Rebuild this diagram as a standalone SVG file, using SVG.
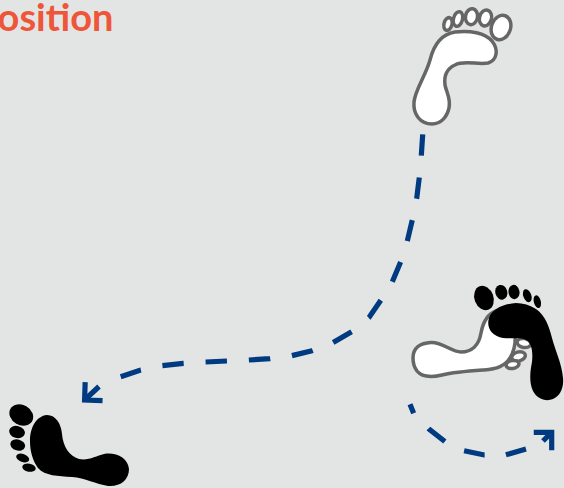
<svg xmlns="http://www.w3.org/2000/svg" width="564" height="488" viewBox="0 0 564 488">
<style>
.title{font-family:"Lato","Open Sans",sans-serif;font-weight:700;font-size:38px;fill:#EF5539}
.white{fill:#fff;stroke:#666;stroke-width:3.5;stroke-linejoin:round}
.black{fill:#000}
.route{fill:none;stroke:#003A80;stroke-width:5.2}
.shaft{fill:none;stroke:#003A80;stroke-width:5.2}
</style>
<defs>
<marker id="arrow" markerUnits="userSpaceOnUse" markerWidth="40" markerHeight="40" viewBox="-30 -20 40 40" refX="0" refY="0" orient="auto" overflow="visible">
<path fill="none" stroke="#003A80" stroke-width="5.2" stroke-linejoin="miter" d="M-12.7,-12.7 L0,0 L-12.7,12.7"/>
</marker>
</defs>
<rect width="564" height="488" fill="#E3E5E4"/>
<text class="title" x="-24" y="31">position</text>
<g id="connectors">
<path class="route" stroke-dasharray="21.4 21.93" d="M422.7,134.3 L421.3,155.7 L419.3,177.3 L416.7,198.3 L412.3,220 L407.3,241 L400.7,261.7 L392.3,281.7 L381,300 L369,317.5 L351.7,331.7 L333,342.7 L312,350.7 L291.7,355.7 L270,358.7 L248.7,360 L226.7,361 L205.3,362 L183.3,363.3 L162.3,365.7 L140.7,370 L120.7,376.7"/>
<path class="shaft" marker-end="url(#arrow)" d="M99,386.5 L84.6,400"/>
<path class="route" stroke-dasharray="21 21.3" stroke-dashoffset="11.4" d="M410,404.3 L413.7,413.3 L429,429 L445,441.7 L464,450.7 L484.3,455 L505.3,455 L526,449"/>
<path class="shaft" marker-end="url(#arrow)" d="M543,441 L551.7,432.3"/>
</g>
<g id="foot-white-top">
<ellipse class="white" cx="501" cy="27.5" rx="9.5" ry="12.5" transform="rotate(20 501 27.5)"/>
<ellipse class="white" cx="485.5" cy="18" rx="6" ry="8" transform="rotate(15 485.5 18)"/>
<ellipse class="white" cx="471.5" cy="16.7" rx="6" ry="8" transform="rotate(10 471.5 16.7)"/>
<ellipse class="white" cx="458" cy="19" rx="4.5" ry="7.5" transform="rotate(15 458 19)"/>
<ellipse class="white" cx="448" cy="24" rx="4" ry="6.5" transform="rotate(15 448 24)"/>
<path class="white" d="M432,124 C420,124 413,114 414,102 C415,90 426,75 430,60 C434,44 442,34 455,32 C470,30 485,33 492,41 C499,50 497,60 488,63 C478,65 464,60 455,65 C446,69 444,77 445,85 C447,94 451,99 449,108 C447,117 441,124 432,124 Z"/>
</g>
<g id="foot-white-right">
<ellipse class="white" cx="524" cy="343" rx="7" ry="4.5" transform="rotate(10 524 343)"/>
<ellipse class="white" cx="518.5" cy="356.5" rx="7" ry="4.5" transform="rotate(-15 518.5 356.5)"/>
<ellipse class="white" cx="512.5" cy="364.5" rx="6.5" ry="4" transform="rotate(-10 512.5 364.5)"/>
<path class="white" d="M413,358 C413,348 420,343 431,342.5 C443,342 451,352 461,352 C472,352 479,345 481,333 C483,322 488,314 496,311 L515,330 C516,342 514,352 510,358 C505,366 497,369 484,370 C470,371 455,372 442,375 C430,378 421,376 417,371 C414,367 413,363 413,358 Z"/>
</g>
<g id="foot-black-right">
<ellipse class="black" cx="484" cy="298" rx="9.5" ry="12.5" transform="rotate(-20 484 298)"/>
<ellipse class="black" cx="501.3" cy="292.3" rx="6" ry="7.5" transform="rotate(-15 501.3 292.3)"/>
<ellipse class="black" cx="514" cy="292" rx="5.5" ry="7.2" transform="rotate(-10 514 292)"/>
<ellipse class="black" cx="527.3" cy="295.7" rx="4" ry="6.8" transform="rotate(-20 527.3 295.7)"/>
<ellipse class="black" cx="537.3" cy="301.7" rx="3.5" ry="6.5" transform="rotate(-15 537.3 301.7)"/>
<path class="black" d="M516,303 C503,304 492,309 489,318 C486,328 492,336 503,338 C512,339 520,337 526,340 C532,343 533,352 532,362 C530,372 529,382 533,391 C537,399 546,402 553,399 C560,396 564,388 563,378 C562,364 555,350 552,338 C549,326 545,315 536,309 C530,305 523,303 516,303 Z"/>
</g>
<g id="foot-black-left">
<ellipse class="black" cx="21.3" cy="415" rx="12.5" ry="10" transform="rotate(30 21.3 415)"/>
<ellipse class="black" cx="17" cy="432" rx="8" ry="6" transform="rotate(15 17 432)"/>
<ellipse class="black" cx="17.7" cy="445" rx="7.5" ry="5.5" transform="rotate(15 17.7 445)"/>
<ellipse class="black" cx="22.7" cy="458" rx="6.8" ry="4" transform="rotate(20 22.7 458)"/>
<ellipse class="black" cx="29" cy="467.7" rx="6.8" ry="4" transform="rotate(10 29 467.7)"/>
<path class="black" d="M30,441 C30,428 36,416 47,415 C56,415 61,424 62,434 C63,446 69,456 79,459 C88,461 96,456 104,454 C116,452 128,458 129,469 C129,480 120,487 108,486 C96,484 85,478 72,477 C58,476 45,476 38,468 C33,461 30,452 30,441 Z"/>
</g>
</svg>
